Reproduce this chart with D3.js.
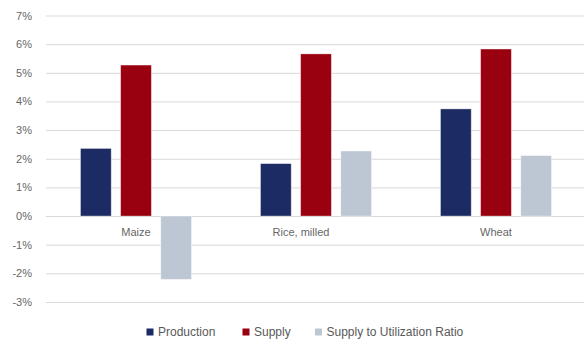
<!DOCTYPE html>
<html>
<head>
<meta charset="utf-8">
<script src="https://cdn.jsdelivr.net/npm/d3@7/dist/d3.min.js"></script>
<style>
  html, body { margin: 0; padding: 0; background: #fff; }
  svg { display: block; font-family: "Liberation Sans", "DejaVu Sans", sans-serif; }
</style>
</head>
<body>
<svg id="chart" width="584" height="341"></svg>
<script>
// Year-on-year change by crop
const categories = ["Maize", "Rice, milled", "Wheat"];
const seriesNames = ["Production", "Supply", "Supply to Utilization Ratio"];
const production = [2.36, 1.83, 3.74];
const supply = [5.27, 5.66, 5.83];
const supplyToUtilization = [-2.21, 2.27, 2.11];
const tickValues = [-3, -2, -1, 0, 1, 2, 3, 4, 5, 6, 7];
const colors = ["#1c2b64", "#990010", "#bdc7d4"];

const seriesValues = [production, supply, supplyToUtilization];

const svg = d3.select("#chart");
const plot = { left: 46, right: 586, top: 15.5, bottom: 302 };

const y = d3.scaleLinear().domain([-3, 7]).range([plot.bottom, plot.top]);

const x0 = d3.scaleBand().domain(categories).range([plot.left, plot.right]).padding(0);
const inner = d3.scaleBand()
  .domain(seriesNames)
  .range([34.5, x0.bandwidth() - 34.5])
  .paddingInner(9.5 / 40.5)
  .paddingOuter(0);

// Horizontal gridlines with percent labels
const yAxis = d3.axisLeft(y)
  .tickValues(tickValues)
  .tickSize(-(plot.right - plot.left))
  .tickPadding(14)
  .tickFormat(d => d + "%");

const gAxis = svg.append("g")
  .attr("transform", `translate(${plot.left},0)`)
  .call(yAxis);
gAxis.select(".domain").remove();
gAxis.selectAll(".tick line").attr("stroke", "#d9d9d9").attr("stroke-width", 1);
gAxis.selectAll(".tick text")
  .attr("fill", "#666666")
  .attr("font-size", "11px");

// Bars
const groups = svg.append("g").selectAll("g")
  .data(categories)
  .join("g")
  .attr("transform", d => `translate(${x0(d)},0)`);

groups.selectAll("rect")
  .data((d, i) => seriesNames.map((s, j) => ({ series: s, value: seriesValues[j][i], color: colors[j] })))
  .join("rect")
  .attr("x", d => inner(d.series))
  .attr("width", inner.bandwidth())
  .attr("y", d => y(Math.max(0, d.value)))
  .attr("height", d => Math.abs(y(d.value) - y(0)))
  .attr("fill", d => d.color)
  .attr("stroke", "#ffffff")
  .attr("stroke-opacity", 0.45)
  .attr("stroke-width", 0.8);

// Category labels just below the zero line (the rice label sits a little left of centre)
const labelShift = { "Rice, milled": -15 };
svg.append("g").selectAll("text")
  .data(categories)
  .join("text")
  .attr("x", d => x0(d) + x0.bandwidth() / 2 + (labelShift[d] || 0))
  .attr("y", y(0) + 20)
  .attr("text-anchor", "middle")
  .attr("fill", "#666666")
  .attr("font-size", "11px")
  .text(d => d);

// Legend
const legendX = [146.5, 242.5, 315];
const legend = svg.append("g").selectAll("g")
  .data(seriesNames)
  .join("g")
  .attr("transform", (d, i) => `translate(${legendX[i]},332)`);

legend.append("rect")
  .attr("x", 0).attr("y", -3.5)
  .attr("width", 7).attr("height", 7)
  .attr("fill", (d, i) => colors[i]);

legend.append("text")
  .attr("x", 11.5)
  .attr("y", 0)
  .attr("dy", "0.35em")
  .attr("fill", "#595959")
  .attr("font-size", "12px")
  .text(d => d);
</script>
</body>
</html>
